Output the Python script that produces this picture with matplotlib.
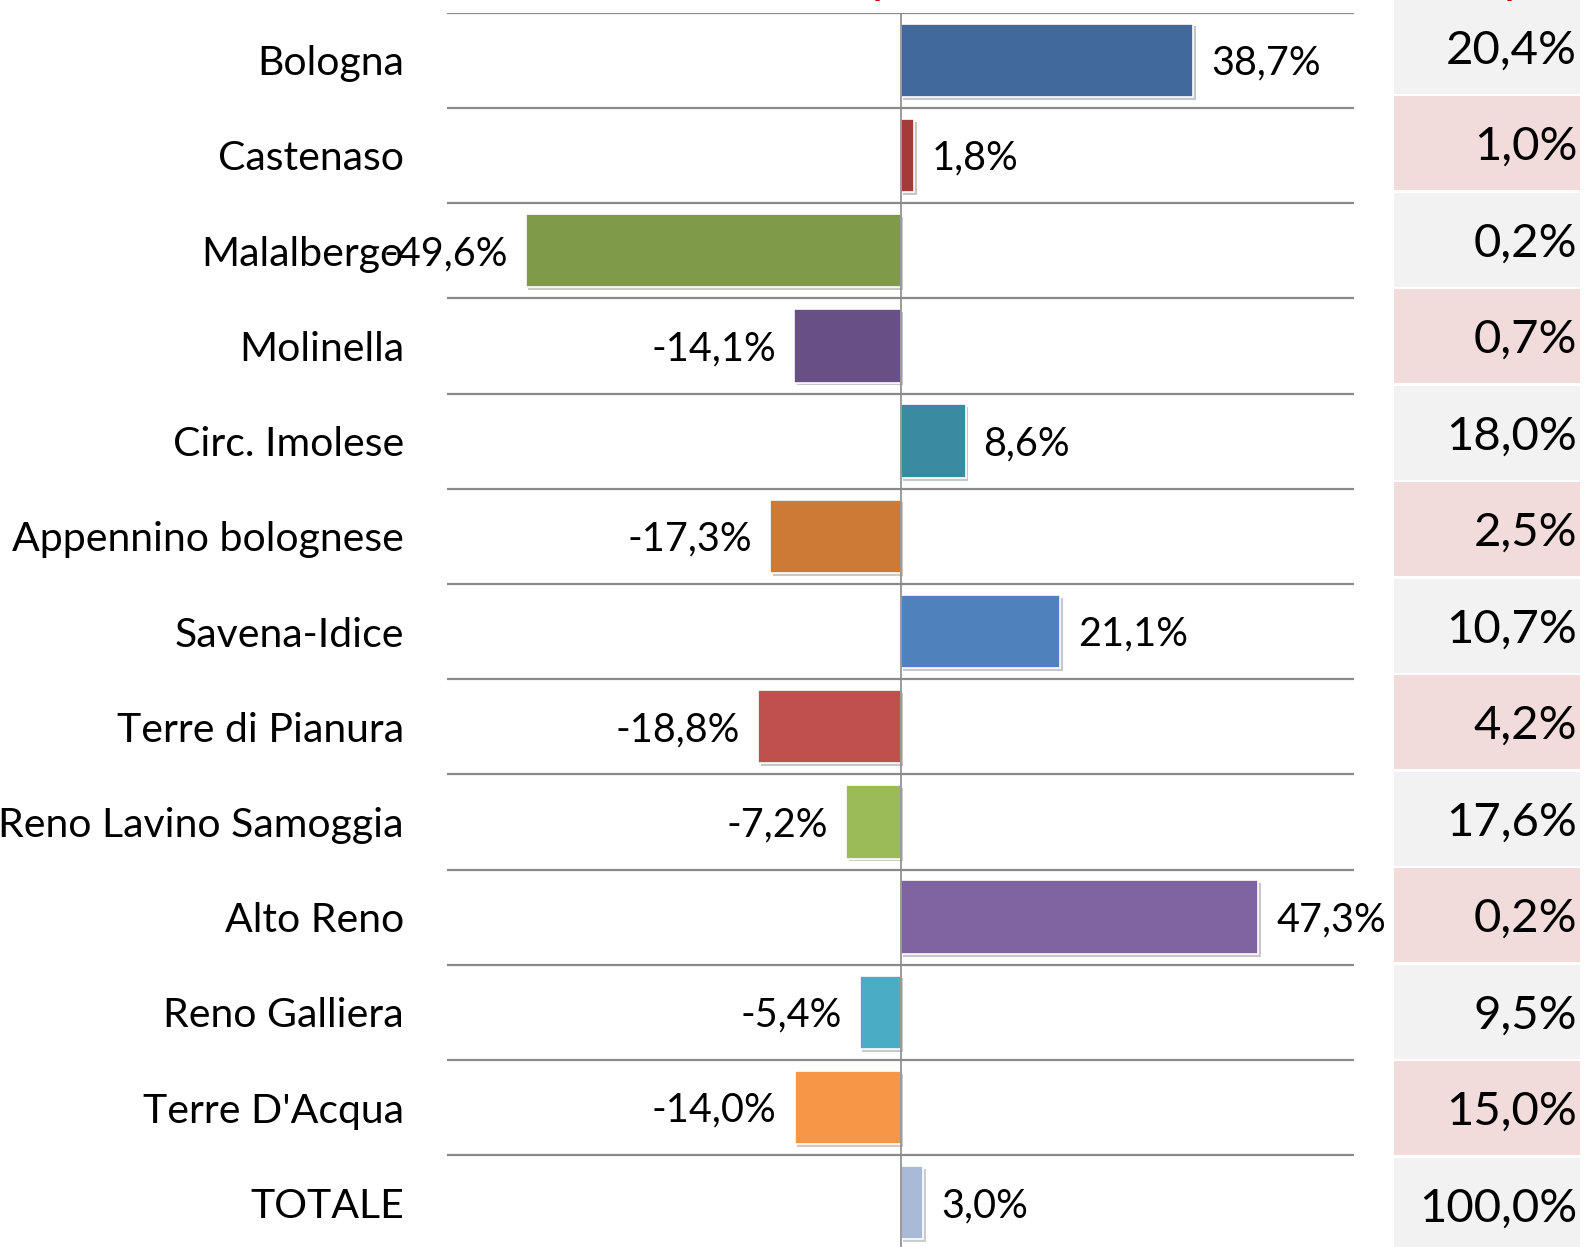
import matplotlib
matplotlib.use('Agg')
import matplotlib.pyplot as plt
import matplotlib.patheffects as pe
from matplotlib.patches import Rectangle

plt.rcParams['font.family'] = ['Lato', 'DejaVu Sans']

# dati
zone = ["Bologna", "Castenaso", "Malalbergo", "Molinella", "Circ. Imolese",
        "Appennino bolognese", "Savena-Idice", "Terre di Pianura",
        "Reno Lavino Samoggia", "Alto Reno", "Reno Galliera", "Terre D'Acqua", "TOTALE"]
variazione = [38.7, 1.8, -49.6, -14.1, 8.6, -17.3, 21.1, -18.8, -7.2, 47.3, -5.4, -14.0, 3.0]
composizione = [20.4, 1.0, 0.2, 0.7, 18.0, 2.5, 10.7, 4.2, 17.6, 0.2, 9.5, 15.0, 100.0]
colori = ["#41699A", "#A33C39", "#7F9A48", "#684F86", "#3A8BA2", "#CC7A36",
          "#4F81BD", "#C0504D", "#9BBB59", "#8064A2", "#4BACC6", "#F79646", "#A9B9D8"]

W, H = 1586, 1247
fig = plt.figure(figsize=(W / 100, H / 100), dpi=100)

# grafico a barre
row_h = 95.2
top = 12.7
ax = fig.add_axes([447 / W, (H - top - 13 * row_h) / H, 907 / W, 13 * row_h / H])
ax.set_xlim(-60, 60)
ax.set_ylim(13, 0)
ypos = [i + 0.5 for i in range(len(zone))]

ax.hlines(range(13), -60, 60, color="#8A8A8A", linewidth=1.6, zorder=1)
ax.axvline(0, color="#8A8A8A", linewidth=1.2, zorder=4)

bars = ax.barh(ypos, variazione, height=0.77, color=colori, edgecolor="white",
               linewidth=1.2, zorder=3)
for b in bars:
    b.set_path_effects([pe.SimplePatchShadow(offset=(2, -2), alpha=0.25), pe.Normal()])

for y, v in zip(ypos, variazione):
    testo = ("%.1f%%" % v).replace(".", ",")
    if v >= 0:
        ax.annotate(testo, (v, y), xytext=(13, -2), textcoords="offset points",
                    ha="left", va="center", fontsize=28.5, zorder=5)
    else:
        ax.annotate(testo, (v, y), xytext=(-13, -2), textcoords="offset points",
                    ha="right", va="center", fontsize=28.5, zorder=5)

ax.set_yticks(ypos)
ax.set_yticklabels(zone, fontsize=29.5)
ax.tick_params(axis="y", length=0, pad=31)
ax.set_xticks([])
for s in ax.spines.values():
    s.set_visible(False)

# colonna composizione %
cell_h = 96.5
ax2 = fig.add_axes([1394 / W, (H - (-1.5 + 13 * cell_h)) / H, 186 / W, 13 * cell_h / H])
ax2.set_xlim(0, 1)
ax2.set_ylim(13, 0)
ax2.axis("off")
gap = 2.5 / cell_h
for i, v in enumerate(composizione):
    col = "#F2F2F2" if i % 2 == 0 else "#F2DCDB"
    ax2.add_patch(Rectangle((0, i + gap / 2), 1, 1 - gap, facecolor=col, edgecolor="none"))
    ax2.text(0.985, i + 0.54, ("%.1f%%" % v).replace(".", ","), ha="right", va="center",
             fontsize=34)

# titoli rossi tagliati in alto
fig.text(872 / W, 1 + 7 / H, "p", color="#C00000", fontsize=34, ha="left", va="baseline")
fig.text(1504 / W, 1 + 7 / H, "p", color="#C00000", fontsize=34, ha="left", va="baseline")

plt.savefig("out.png", dpi=100)
